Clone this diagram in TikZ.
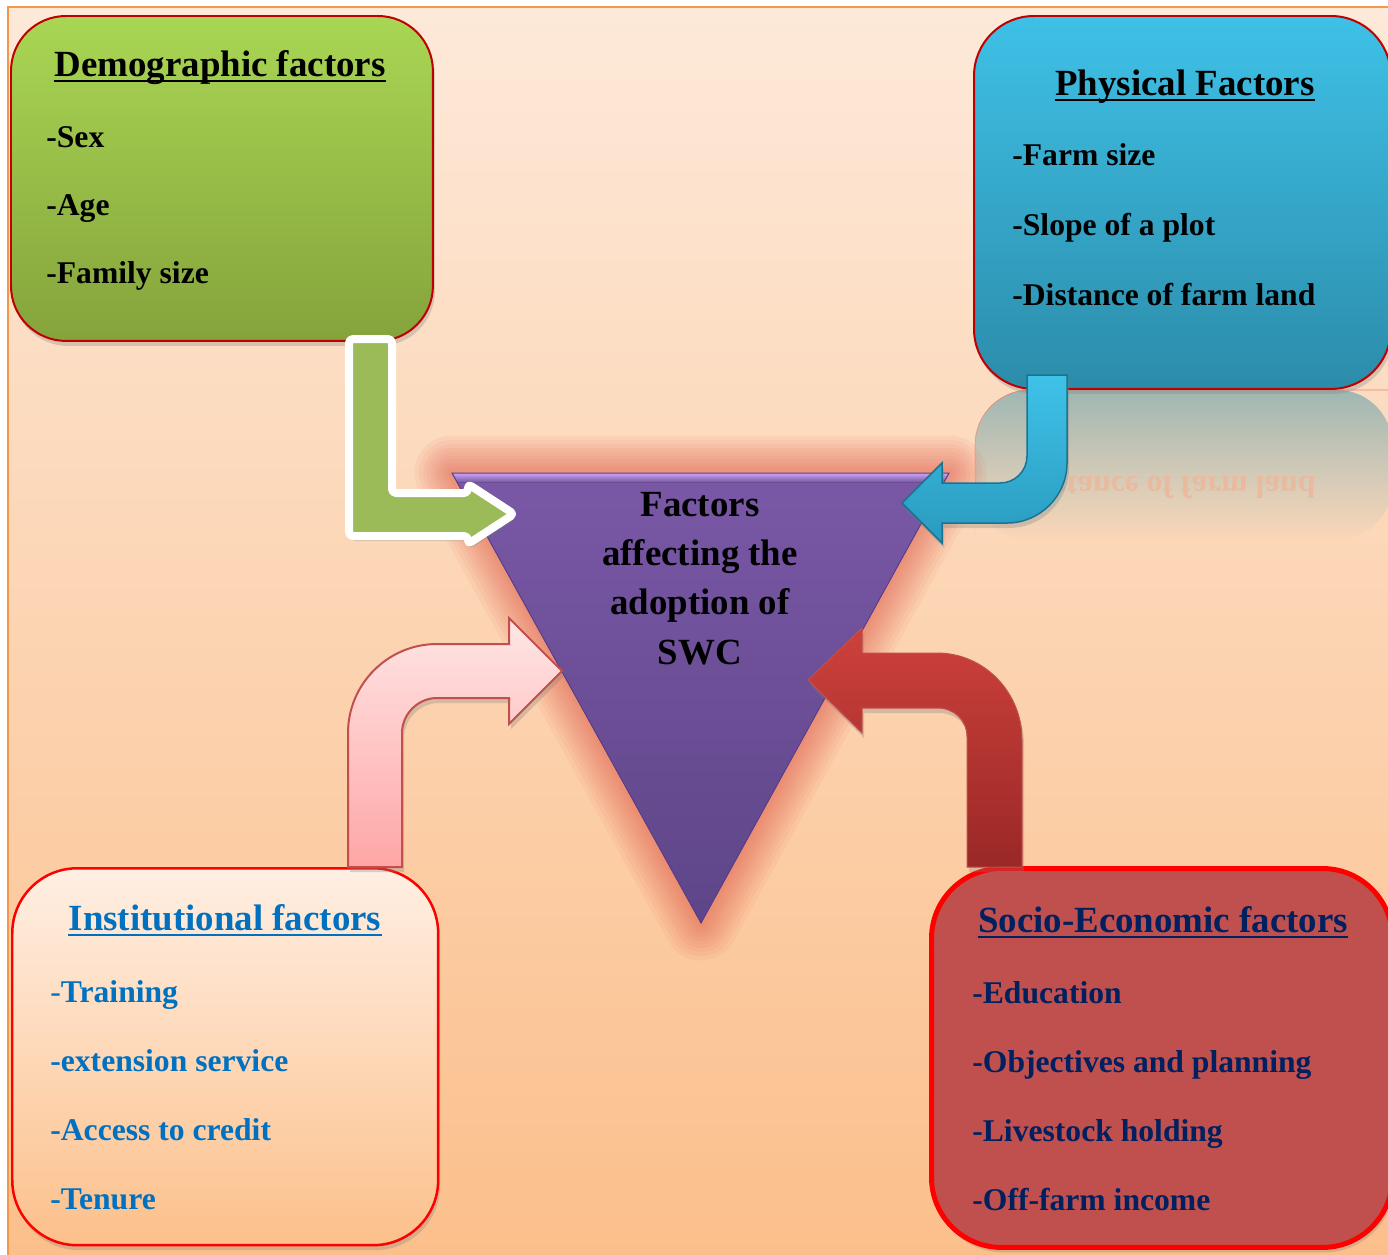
\documentclass[tikz,border=0pt]{standalone}
\usepackage{fontspec}
\setmainfont{Liberation Serif}
\usetikzlibrary{shadows,fadings}
\definecolor{bgtop}{HTML}{FDE9D9}
\definecolor{bgbot}{HTML}{FBBF8B}
\definecolor{frame}{HTML}{F79646}
\definecolor{demotop}{HTML}{A9D654}
\definecolor{demobot}{HTML}{85A33B}
\definecolor{darkred}{HTML}{C00000}
\definecolor{phystop}{HTML}{3EC1E7}
\definecolor{physbot}{HTML}{2C8CAA}
\definecolor{insttop}{HTML}{FFEFE3}
\definecolor{instbot}{HTML}{FCC08B}
\definecolor{socio}{HTML}{C0504D}
\definecolor{instblue}{HTML}{0070C0}
\definecolor{navy}{HTML}{002060}
\definecolor{glow}{HTML}{E05A4A}
\definecolor{trtop}{HTML}{7A58A6}
\definecolor{trbot}{HTML}{5E4588}
\definecolor{trband}{HTML}{C9A7F7}
\definecolor{tredge}{HTML}{5A3E8A}
\definecolor{grarrow}{HTML}{9BBB59}
\definecolor{bltop}{HTML}{3FC2E8}
\definecolor{blbot}{HTML}{2A9ABF}
\definecolor{bledge}{HTML}{1C7390}
\definecolor{pktop}{HTML}{FFE6E6}
\definecolor{pkbot}{HTML}{FFA6A6}
\definecolor{rdtop}{HTML}{CD413C}
\definecolor{rdbot}{HTML}{9A2826}
\definecolor{refl}{HTML}{9FB7B2}
\definecolor{reflline}{HTML}{F0806E}
\definecolor{refltext}{HTML}{E9BA9E}

\begin{document}
\begin{tikzpicture}[x=0.02cm,y=-0.02cm,
  shade/.style={drop shadow={opacity=.3,shadow xshift=.04cm,shadow yshift=-.1cm}},
  box/.style={anchor=north west,inner sep=0pt,shade},
  head/.style={anchor=base,inner sep=0pt,font=\fontsize{21}{25}\selectfont\bfseries},
  item/.style={anchor=base west,inner sep=0pt,font=\fontsize{18}{22}\selectfont\bfseries},
  uline/.style={line width=.05cm},
  swctext/.style={anchor=base,inner sep=0pt,font=\fontsize{21}{25}\selectfont\bfseries}
]
  \useasboundingbox (0,0) rectangle (1388,1254);
  % background panel
  \fill[top color=bgtop,bottom color=bgbot] (8,7) rectangle (1392,1258);
  \draw[frame,line width=.03cm] (8,1258) -- (8,7) -- (1392,7);

  % reflection under the physical box
  \fill[refl,path fading=south,rounded corners=1.1cm] (975,390) rectangle (1392,540);
  \draw[reflline,path fading=south,rounded corners=1.1cm]
    (975,540) -- (975,390) -- (1392,390);
  \node[item,yscale=-1,text=refltext] (mirror) at (1012,476)
    {-Distance of farm land};

  % centre triangle
  \coordinate (tl) at (452,473);
  \coordinate (tr) at (949,473);
  \coordinate (bt) at (701,923);
  \foreach \w in {1.5cm,1.32cm,1.15cm,1cm,.85cm,.7cm,.56cm,.42cm,.28cm,.16cm}
    \draw[glow,line width=\w,draw opacity=.07,line join=round] (tl) -- (tr) -- (bt) -- cycle;
  \fill[top color=trtop,bottom color=trbot] (tl) -- (tr) -- (bt) -- cycle;
  \fill[top color=trband,bottom color=trtop] (tl) -- (tr) -- (944,482) -- (457,482) -- cycle;
  \draw[tredge,line width=.02cm] (tl) -- (tr) -- (bt) -- cycle;
  \node[swctext] (swc1) at (700,516) {Factors};
  \node[swctext] (swc2) at (700,565) {affecting the};
  \node[swctext] (swc3) at (700,614) {adoption of};
  \node[swctext] (swc4) at (700,664) {SWC};

  % Demographic box
  \node[box,minimum width=8.44cm,minimum height=6.5cm,rounded corners=1.1cm,
    top color=demotop,bottom color=demobot,draw=darkred,line width=.04cm]
    (demo) at (10,15) {};
  \node[head] (demohead) at (220,76) {Demographic factors};
  \draw[uline] ([yshift=-.1cm]demohead.base west) -- ([yshift=-.1cm]demohead.base east);
  \foreach \t [count=\i] in {-Sex,-Age,-Family size}
    \node[item] (demo\i) at (46,{79+68*\i}) {\t};

  % Physical box
  \node[box,minimum width=8.34cm,minimum height=7.46cm,rounded corners=1.2cm,
    top color=phystop,bottom color=physbot,draw=darkred,line width=.04cm]
    (phys) at (973,15) {};
  \node[head] (physhead) at (1185,95) {Physical Factors};
  \draw[uline] ([yshift=-.1cm]physhead.base west) -- ([yshift=-.1cm]physhead.base east);
  \foreach \t [count=\i] in {-Farm size,-Slope of a plot,-Distance of farm land}
    \node[item] (phys\i) at (1012,{95+70*\i}) {\t};

  % Institutional box
  \node[box,minimum width=8.52cm,minimum height=7.54cm,rounded corners=1.3cm,
    top color=insttop,bottom color=instbot,draw=red,line width=.05cm]
    (inst) at (11,867) {};
  \node[head,text=instblue] (insthead) at (225,930) {Institutional factors};
  \draw[uline,instblue] ([yshift=-.1cm]insthead.base west) -- ([yshift=-.1cm]insthead.base east);
  \foreach \t [count=\i] in {{\mdseries-}Training,-extension service,-Access to credit,-Tenure}
    \node[item,text=instblue] (inst\i) at (50,{933+69*\i}) {\t};

  % Socio-Economic box
  \node[box,minimum width=9.22cm,minimum height=7.58cm,rounded corners=1.4cm,
    fill=socio,draw=red,line width=.1cm]
    (socio) at (929,866) {};
  \node[head,text=navy] (sociohead) at (1163,932) {Socio-Economic factors};
  \draw[uline,navy] ([yshift=-.1cm]sociohead.base west) -- ([yshift=-.1cm]sociohead.base east);
  \foreach \t [count=\i] in {-Education,-Objectives and planning,-Livestock holding,-Off-farm income}
    \node[item,text=navy] (socio\i) at (972,{934+69*\i}) {\t};

  % block arrows into the triangle
  \draw[fill=grarrow,draw=white,line width=.16cm,line join=round,rounded corners=.08cm,shade]
    (349,339) -- (392,339) -- (392,493) -- (468,493) -- (468,484)
    -- (514,514) -- (468,544) -- (468,536) -- (349,536) -- cycle;
  \draw[top color=bltop,bottom color=blbot,draw=bledge,line width=.03cm,shade]
    (1027,375) -- (1067,375) -- (1067,463) .. controls (1067,496) and (1040,523) .. (1007,523)
    -- (942,523) -- (942,543) -- (902,503) -- (942,463) -- (942,483) -- (1000,483)
    .. controls (1015,483) and (1027,471) .. (1027,456) -- cycle;
  \draw[top color=pktop,bottom color=pkbot,draw=socio,line width=.04cm,shade]
    (348,867) -- (348,733) .. controls (348,684) and (388,644) .. (437,644)
    -- (509,644) -- (509,618) -- (562,671) -- (509,724) -- (509,698) -- (437,698)
    .. controls (418,698) and (402,714) .. (402,733) -- (402,867) -- cycle;
  \draw[top color=rdtop,bottom color=rdbot,draw=socio,line width=.02cm,shade]
    (1022,867) -- (1022,740) .. controls (1022,692) and (984,653) .. (937,653)
    -- (862,653) -- (862,628) -- (808,680) -- (862,733) -- (862,708) -- (937,708)
    .. controls (954,708) and (967,720) .. (967,737) -- (967,867) -- cycle;
\end{tikzpicture}
\end{document}
